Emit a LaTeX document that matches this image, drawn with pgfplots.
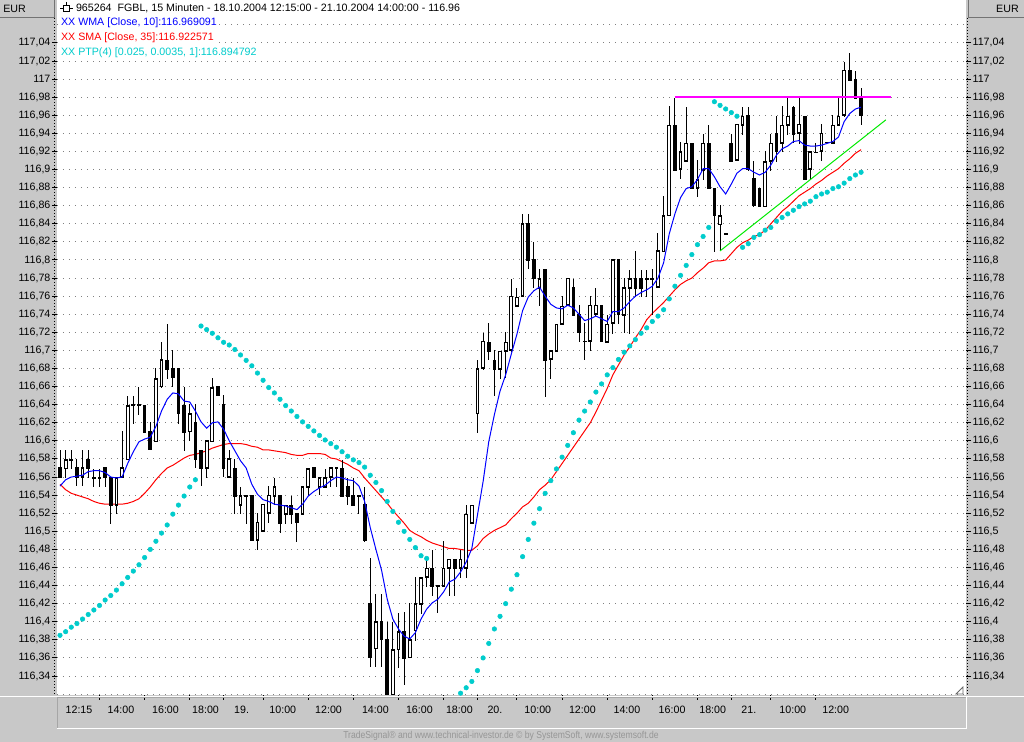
\documentclass[border=0pt]{standalone}
\usepackage{fontspec}
\setmainfont{Liberation Sans}
\usepackage{pgfplots}
\usepackage{pgfplotstable}
\pgfplotsset{compat=1.18}
\definecolor{panel}{RGB}{200,200,200}
\definecolor{ptpcol}{RGB}{0,204,204}
\definecolor{wmacol}{RGB}{0,0,255}
\definecolor{smacol}{RGB}{255,0,0}
\definecolor{trendg}{RGB}{0,235,0}
\definecolor{magline}{RGB}{255,0,255}
\definecolor{gridc}{RGB}{128,128,128}
\definecolor{credit}{RGB}{150,150,150}

\pgfplotstableread{
i O H L C
0 116.57 116.59 116.56 116.56
1 116.57 116.59 116.56 116.58
2 116.58 116.59 116.57 116.58
3 116.57 116.58 116.55 116.56
4 116.56 116.59 116.55 116.57
5 116.58 116.59 116.56 116.57
6 116.56 116.57 116.55 116.56
7 116.56 116.57 116.55 116.56
8 116.57 116.57 116.55 116.56
9 116.56 116.56 116.51 116.53
10 116.53 116.56 116.52 116.56
11 116.56 116.61 116.56 116.57
12 116.58 116.65 116.58 116.64
13 116.64 116.65 116.62 116.64
14 116.64 116.66 116.63 116.64
15 116.64 116.64 116.61 116.61
16 116.61 116.62 116.59 116.59
17 116.60 116.68 116.60 116.67
18 116.66 116.71 116.66 116.69
19 116.69 116.73 116.67 116.68
20 116.68 116.70 116.66 116.67
21 116.68 116.68 116.62 116.63
22 116.64 116.66 116.59 116.61
23 116.61 116.64 116.60 116.63
24 116.62 116.64 116.57 116.58
25 116.59 116.59 116.55 116.57
26 116.57 116.60 116.56 116.60
27 116.60 116.67 116.60 116.66
28 116.66 116.66 116.65 116.65
29 116.64 116.65 116.56 116.57
30 116.56 116.59 116.56 116.58
31 116.57 116.58 116.52 116.54
32 116.53 116.55 116.52 116.54
33 116.54 116.54 116.51 116.54
34 116.54 116.54 116.49 116.49
35 116.49 116.52 116.48 116.51
36 116.50 116.53 116.50 116.53
37 116.52 116.55 116.51 116.54
38 116.54 116.56 116.53 116.55
39 116.54 116.54 116.50 116.51
40 116.52 116.53 116.51 116.53
41 116.53 116.54 116.51 116.52
42 116.52 116.52 116.49 116.51
43 116.52 116.55 116.52 116.55
44 116.55 116.57 116.54 116.57
45 116.57 116.57 116.56 116.56
46 116.55 116.56 116.54 116.56
47 116.55 116.57 116.55 116.56
48 116.56 116.57 116.55 116.57
49 116.57 116.57 116.55 116.57
50 116.57 116.58 116.54 116.54
51 116.55 116.56 116.53 116.54
52 116.54 116.56 116.53 116.53
53 116.54 116.54 116.52 116.54
54 116.53 116.55 116.49 116.49
55 116.42 116.47 116.35 116.36
56 116.37 116.43 116.35 116.40
57 116.40 116.43 116.35 116.38
58 116.38 116.40 116.32 116.32
59 116.32 116.40 116.32 116.37
60 116.37 116.41 116.35 116.39
61 116.39 116.41 116.33 116.36
62 116.36 116.42 116.36 116.38
63 116.39 116.45 116.38 116.42
64 116.42 116.45 116.41 116.45
65 116.45 116.47 116.44 116.46
66 116.46 116.48 116.43 116.44
67 116.44 116.44 116.41 116.44
68 116.44 116.49 116.44 116.46
69 116.46 116.47 116.43 116.47
70 116.47 116.47 116.43 116.46
71 116.46 116.48 116.45 116.47
72 116.46 116.53 116.45 116.52
73 116.51 116.53 116.51 116.53
74 116.63 116.69 116.61 116.68
75 116.68 116.72 116.68 116.71
76 116.71 116.73 116.69 116.70
77 116.69 116.70 116.65 116.68
78 116.68 116.70 116.67 116.70
79 116.70 116.72 116.67 116.71
80 116.70 116.78 116.70 116.76
81 116.75 116.77 116.75 116.76
82 116.76 116.85 116.76 116.84
83 116.84 116.85 116.79 116.80
84 116.80 116.82 116.77 116.78
85 116.77 116.79 116.75 116.78
86 116.79 116.79 116.65 116.69
87 116.69 116.70 116.67 116.70
88 116.70 116.73 116.70 116.73
89 116.73 116.76 116.73 116.75
90 116.75 116.78 116.75 116.78
91 116.77 116.78 116.74 116.74
92 116.74 116.75 116.71 116.72
93 116.71 116.73 116.69 116.71
94 116.71 116.76 116.70 116.75
95 116.74 116.77 116.74 116.75
96 116.75 116.75 116.71 116.71
97 116.71 116.74 116.71 116.73
98 116.73 116.80 116.72 116.80
99 116.80 116.80 116.73 116.74
100 116.74 116.78 116.72 116.77
101 116.77 116.79 116.72 116.78
102 116.78 116.81 116.76 116.77
103 116.78 116.79 116.76 116.77
104 116.78 116.79 116.76 116.78
105 116.78 116.79 116.74 116.78
106 116.77 116.83 116.77 116.81
107 116.81 116.87 116.81 116.85
108 116.85 116.97 116.85 116.95
109 116.95 116.98 116.90 116.90
110 116.90 116.93 116.89 116.92
111 116.91 116.97 116.91 116.93
112 116.93 116.93 116.88 116.88
113 116.88 116.91 116.87 116.89
114 116.90 116.94 116.89 116.93
115 116.93 116.95 116.88 116.88
116 116.88 116.88 116.81 116.85
117 116.84 116.86 116.81 116.85
118 116.83 116.83 116.83 116.83
119 116.93 116.94 116.91 116.91
120 116.91 116.95 116.91 116.95
121 116.95 116.97 116.94 116.96
122 116.96 116.97 116.90 116.90
123 116.89 116.91 116.86 116.86
124 116.88 116.88 116.86 116.86
125 116.86 116.92 116.86 116.91
126 116.91 116.94 116.90 116.93
127 116.94 116.96 116.91 116.92
128 116.93 116.97 116.92 116.95
129 116.95 116.98 116.94 116.96
130 116.97 116.97 116.93 116.94
131 116.94 116.98 116.93 116.95
132 116.96 116.96 116.89 116.89
133 116.90 116.92 116.89 116.92
134 116.92 116.93 116.92 116.92
135 116.92 116.95 116.91 116.94
136 116.93 116.93 116.93 116.93
137 116.93 116.96 116.93 116.95
138 116.95 116.98 116.95 116.96
139 116.96 117.02 116.96 117.01
140 117.01 117.03 117.00 117.00
141 117.00 117.01 116.98 116.98
142 116.98 116.99 116.95 116.96
}\candles

\pgfplotstableread{
i v
0 116.550
1 116.557
2 116.560
3 116.561
4 116.562
5 116.566
6 116.567
7 116.567
8 116.565
9 116.560
10 116.559
11 116.560
12 116.575
13 116.588
14 116.599
15 116.602
16 116.604
17 116.616
18 116.633
19 116.646
20 116.653
21 116.652
22 116.644
23 116.643
24 116.633
25 116.621
26 116.614
27 116.620
28 116.621
29 116.613
30 116.600
31 116.589
32 116.578
33 116.570
34 116.552
35 116.541
36 116.535
37 116.533
38 116.530
39 116.529
40 116.528
41 116.526
42 116.524
43 116.530
44 116.539
45 116.544
46 116.548
47 116.551
48 116.556
49 116.560
50 116.559
51 116.557
52 116.556
53 116.550
54 116.533
55 116.504
56 116.480
57 116.457
58 116.425
59 116.403
60 116.392
61 116.384
62 116.381
63 116.388
64 116.403
65 116.414
66 116.421
67 116.425
68 116.433
69 116.444
70 116.447
71 116.455
72 116.466
73 116.481
74 116.518
75 116.555
76 116.599
77 116.629
78 116.655
79 116.673
80 116.696
81 116.718
82 116.744
83 116.759
84 116.766
85 116.770
86 116.760
87 116.751
88 116.747
89 116.746
90 116.750
91 116.747
92 116.740
93 116.733
94 116.735
95 116.738
96 116.735
97 116.732
98 116.743
99 116.743
100 116.747
101 116.754
102 116.760
103 116.764
104 116.767
105 116.771
106 116.780
107 116.797
108 116.829
109 116.851
110 116.869
111 116.879
112 116.881
113 116.889
114 116.901
115 116.901
116 116.892
117 116.881
118 116.873
119 116.884
120 116.896
121 116.901
122 116.901
123 116.897
124 116.894
125 116.897
126 116.905
127 116.916
128 116.923
129 116.926
130 116.931
131 116.932
132 116.927
133 116.926
134 116.926
135 116.927
136 116.929
137 116.931
138 116.936
139 116.953
140 116.962
141 116.967
142 116.969
}\wmatab

\pgfplotstableread{
i v
0 116.552
1 116.546
2 116.542
3 116.540
4 116.538
5 116.536
6 116.533
7 116.531
8 116.530
9 116.530
10 116.530
11 116.530
12 116.531
13 116.533
14 116.536
15 116.542
16 116.549
17 116.557
18 116.564
19 116.570
20 116.573
21 116.577
22 116.581
23 116.584
24 116.585
25 116.587
26 116.589
27 116.592
28 116.594
29 116.596
30 116.597
31 116.597
32 116.597
33 116.596
34 116.594
35 116.593
36 116.590
37 116.590
38 116.589
39 116.588
40 116.587
41 116.585
42 116.584
43 116.584
44 116.586
45 116.586
46 116.586
47 116.585
48 116.581
49 116.580
50 116.577
51 116.574
52 116.570
53 116.567
54 116.559
55 116.552
56 116.545
57 116.538
58 116.531
59 116.523
60 116.516
61 116.509
62 116.501
63 116.497
64 116.494
65 116.490
66 116.487
67 116.485
68 116.483
69 116.481
70 116.481
71 116.480
72 116.479
73 116.479
74 116.484
75 116.492
76 116.497
77 116.501
78 116.504
79 116.507
80 116.514
81 116.520
82 116.527
83 116.531
84 116.538
85 116.546
86 116.551
87 116.557
88 116.566
89 116.575
90 116.584
91 116.593
92 116.602
93 116.611
94 116.620
95 116.632
96 116.645
97 116.658
98 116.673
99 116.684
100 116.695
101 116.704
102 116.714
103 116.723
104 116.734
105 116.741
106 116.747
107 116.753
108 116.760
109 116.767
110 116.773
111 116.777
112 116.780
113 116.786
114 116.791
115 116.797
116 116.799
117 116.799
118 116.800
119 116.807
120 116.814
121 116.819
122 116.822
123 116.826
124 116.828
125 116.833
126 116.840
127 116.847
128 116.854
129 116.859
130 116.865
131 116.871
132 116.875
133 116.879
134 116.884
135 116.888
136 116.893
137 116.897
138 116.901
139 116.907
140 116.912
141 116.918
142 116.922
}\smatab

\pgfplotstableread{
i v
0 116.385
1 116.389
2 116.394
3 116.398
4 116.403
5 116.408
6 116.413
7 116.418
8 116.424
9 116.429
10 116.435
11 116.442
12 116.449
13 116.456
14 116.463
15 116.471
16 116.480
17 116.489
18 116.498
19 116.507
20 116.519
21 116.529
22 116.539
23 116.549
24 116.557
25 116.727
26 116.723
27 116.719
28 116.714
29 116.709
30 116.706
31 116.701
32 116.695
33 116.689
34 116.683
35 116.675
36 116.667
37 116.659
38 116.653
39 116.646
40 116.639
41 116.633
42 116.627
43 116.621
44 116.616
45 116.611
46 116.606
47 116.601
48 116.597
49 116.593
50 116.588
51 116.583
52 116.579
53 116.576
54 116.571
55 116.562
56 116.554
57 116.545
58 116.533
59 116.522
60 116.510
61 116.500
62 116.491
63 116.482
64 116.473
65 116.470
70 116.318
71 116.321
72 116.327
73 116.334
74 116.346
75 116.360
76 116.376
77 116.392
78 116.406
79 116.420
80 116.436
81 116.452
82 116.472
83 116.491
84 116.509
85 116.525
86 116.542
87 116.556
88 116.569
89 116.582
90 116.595
91 116.609
92 116.623
93 116.633
94 116.643
95 116.654
96 116.663
97 116.673
98 116.681
99 116.690
100 116.698
101 116.705
102 116.712
103 116.719
104 116.725
105 116.732
106 116.738
107 116.745
108 116.757
109 116.771
110 116.783
111 116.794
112 116.806
113 116.817
114 116.826
115 116.836
116 116.975
117 116.971
118 116.967
119 116.963
120 116.959
121 116.814
122 116.818
123 116.825
124 116.828
125 116.833
126 116.836
127 116.843
128 116.847
129 116.851
130 116.855
131 116.859
132 116.862
133 116.865
134 116.870
135 116.873
136 116.875
137 116.879
138 116.881
139 116.885
140 116.890
141 116.894
142 116.897
}\ptptab

\pgfplotsset{
  chartaxis/.style={
    at={(42.75pt,35.25pt)}, anchor=south west,
    width=681.75pt, height=521.25pt, scale only axis,
    xmin=-0.532, xmax=160.6, ymin=116.319, ymax=117.0875,
    axis line style={draw=none},
    tick align=outside, major tick length=3.75pt,
    tick style={black, line width=0.75pt},
    minor tick num=0, scaled y ticks=false,
    tick label style={font=\fontsize{8}{9.6}\selectfont},
    ytick={116.34,116.36,116.38,116.40,116.42,116.44,116.46,116.48,116.50,116.52,116.54,116.56,116.58,116.60,116.62,116.64,116.66,116.68,116.70,116.72,116.74,116.76,116.78,116.80,116.82,116.84,116.86,116.88,116.90,116.92,116.94,116.96,116.98,117.00,117.02,117.04},
    yticklabel style={/pgf/number format/fixed, /pgf/number format/precision=2, /pgf/number format/use comma, /pgf/number format/1000 sep={}, /pgf/number format/assume math mode=true},
  },
  candle/.style 2 args={forget plot, draw=none, no markers,
    error bars/y dir=both, error bars/y explicit, error bars/error mark=none,
    error bars/error bar style={solid, draw=#1, line width=#2}},
}

\begin{document}
\begin{tikzpicture}
\fill[panel] (0,0) rectangle (768pt,556.5pt);
\useasboundingbox (0,0) rectangle (768pt,556.5pt);

\begin{axis}[chartaxis,
  axis background/.style={fill=white},
  xtick pos=bottom, ytick pos=left,
  yticklabel style={anchor=east, inner sep=0pt, xshift=-1pt},
  ymajorgrids,
  grid style={gridc, line width=0.75pt, dash pattern=on 0.75pt off 3.75pt},
  extra y ticks={116.32,117.06}, extra y tick labels={},
  extra y tick style={grid=major, major tick length=0pt},
  xtick={7,15,23,29,36,44,52,60,68,74,81,89,97,105,113,119,126,134},
  xticklabels={},
  extra x ticks={3.37,10.8,18.7,25.8,32.2,39.5,47.6,55.9,63.7,70.8,77.1,84.7,92.6,100.5,108.5,115.7,122.1,129.9,137.5},
  extra x tick labels={12:15,14:00,16:00,18:00,19.,10:00,12:00,14:00,16:00,18:00,20.,10:00,12:00,14:00,16:00,18:00,21.,10:00,12:00},
  extra x tick style={major tick length=0pt, xticklabel style={anchor=base, yshift=-14pt}},
]
% SMA below candles
\addplot[forget plot, draw=smacol, line width=0.75pt, no markers] table[x=i,y=v] {\smatab};
% wicks
\addplot[candle={black}{0.75pt}]
  table[x=i, y expr={(\thisrow{H}+\thisrow{L})/2}, y error expr={(\thisrow{H}-\thisrow{L})/2+0.0004}] {\candles};
% bodies (outline / filled)
\addplot[candle={black}{2.8pt}]
  table[x=i, y expr={(\thisrow{O}+\thisrow{C})/2}, y error expr={abs(\thisrow{C}-\thisrow{O})/2+0.0006}] {\candles};
% hollow interior of rising candles
\addplot[candle={white}{1.3pt}]
  table[x=i, y expr={(\thisrow{O}+\thisrow{C})/2}, y error expr={max((\thisrow{C}-\thisrow{O})/2-0.0012,0)}] {\candles};
% other indicators
\addplot[forget plot, draw=wmacol, line width=0.75pt, no markers] table[x=i,y=v] {\wmatab};
\addplot[forget plot, only marks, mark=*, mark size=1.7pt, color=ptpcol, mark options={draw=none, fill=ptpcol}] table[x=i,y=v] {\ptptab};
\addplot[forget plot, draw=trendg, line width=0.75pt, no markers] coordinates {(117,116.81) (146.4,116.955)};
\addplot[forget plot, draw=magline, line width=1.1pt, no markers] coordinates {(109,116.98) (147.3,116.98)};
\end{axis}

\begin{axis}[chartaxis,
  hide x axis,
  ytick pos=right, yticklabel pos=right,
  yticklabel style={anchor=west, inner sep=0pt, xshift=1pt},
]
\end{axis}

\begin{scope}[x=0.75pt,y=-0.75pt,yshift=556.5pt]
  \fontsize{8}{9.6}\selectfont
  % EUR boxes
  \draw[black!55, line width=0.75pt] (0,17.5)--(54.5,17.5)--(54.5,0);
  \node[anchor=west, inner sep=0pt] at (3,8.5) {EUR};
  \draw[black!55, line width=0.75pt] (968,0)--(968,17.5)--(1024,17.5);
  \node[anchor=east, inner sep=0pt] at (1019,8.5) {EUR};
  % dotted minor-tick rails
  \draw[black, line width=0.75pt, dash pattern=on 0.75pt off 1.5pt] (54.5,18)--(54.5,695);
  \draw[black, line width=0.75pt, dash pattern=on 0.75pt off 1.5pt] (967.5,18)--(967.5,695);
  % bottom panel frame
  \draw[white, line width=0.75pt] (0,696.5)--(1024,696.5);
  \draw[black!35, line width=0.75pt] (57.5,728.5)--(57.5,698)--(966,698);
  \draw[white, line width=0.75pt] (966,697)--(966,729)--(57,729);
  % resize grip
  \draw[black!60, line width=0.6pt] (956,694)--(963,687)--(963,694)--cycle;
  % credits
  \node[credit, inner sep=0pt] at (501,735.5) {\scalebox{0.86}[1]{\fontsize{7.5}{8}\selectfont TradeSignal® and www.technical-investor.de © by SystemSoft, www.systemsoft.de}};
  % title and legend
  \draw[black, line width=0.6pt] (63.5,5)rectangle(69.5,11);
  \draw[black, line width=0.6pt] (60,8)--(63.5,8) (69.5,8)--(73,8) (66.5,2)--(66.5,5);
  \node[anchor=west, fill=white, inner sep=0.6pt] at (75,8) {965264\ \ FGBL, 15 Minuten - 18.10.2004 12:15:00 - 21.10.2004 14:00:00 - 116.96};
  \node[anchor=west, fill=white, inner sep=0.6pt, text=wmacol] at (60,22.5) {XX WMA [Close, 10]:116.969091};
  \node[anchor=west, fill=white, inner sep=0.6pt, text=smacol] at (60,37.5) {XX SMA [Close, 35]:116.922571};
  \node[anchor=west, fill=white, inner sep=0.6pt, text=ptpcol] at (60,52.5) {XX PTP(4) [0.025, 0.0035, 1]:116.894792};
\end{scope}
\end{tikzpicture}
\end{document}
